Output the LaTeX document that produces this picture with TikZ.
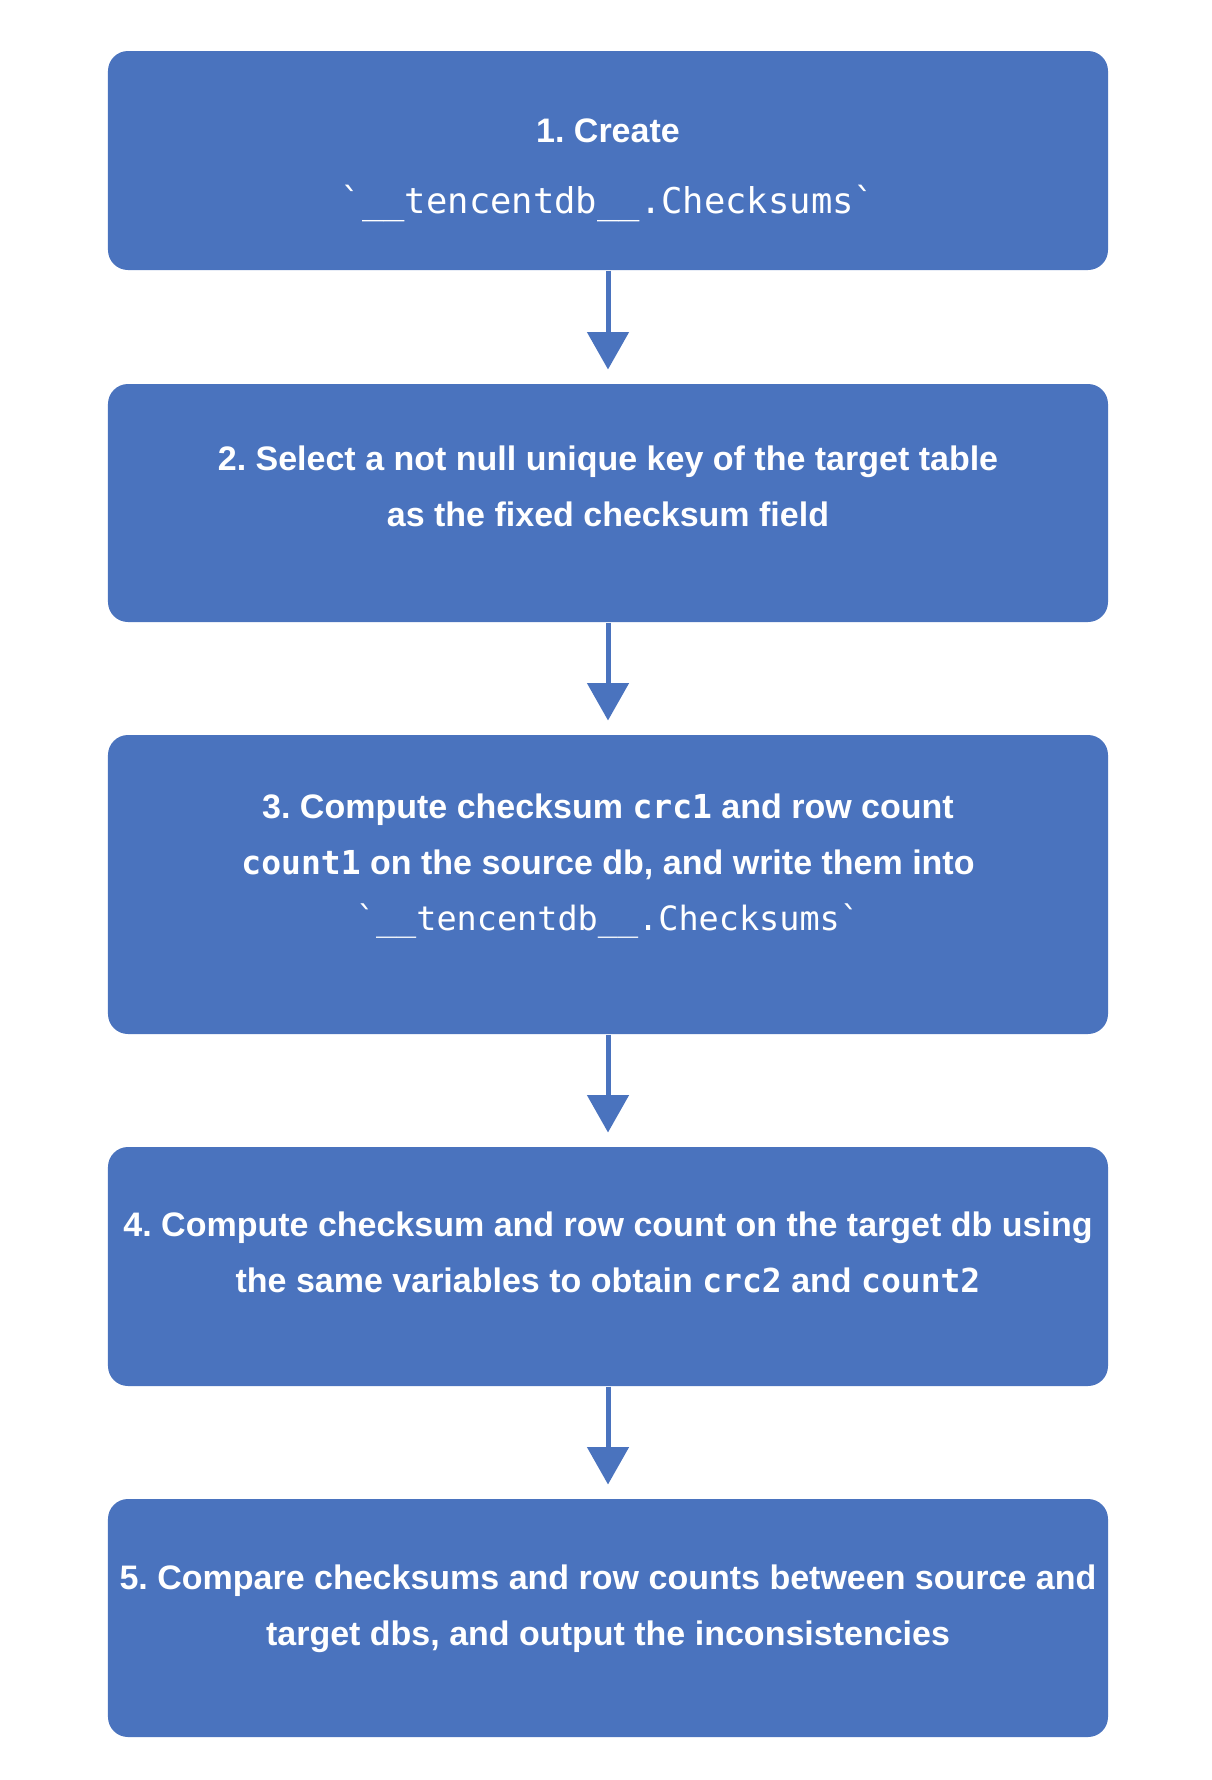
\documentclass[tikz,border=0pt]{standalone}
\usepackage{fontspec}
\setmainfont{Liberation Sans}
\newfontfamily\codefont{DejaVu Sans Mono}
\usepackage{xcolor}
\usepackage{tikz}
\usetikzlibrary{arrows.meta}

\definecolor{stepblue}{RGB}{74,115,190}
\newcommand{\code}[1]{{\codefont\fontsize{13.2pt}{22.4pt}\selectfont\bfseries #1}}
\newcommand{\tbl}[1]{{\codefont\fontsize{#1}{22.4pt}\selectfont\mdseries `\_\_tencentdb\_\_.Checksums`}}
\frenchspacing

\begin{document}
\begin{tikzpicture}[x=0.4pt,y=-0.4pt,
		stepbox/.style={draw=none,fill=stepblue,rounded corners=8pt,minimum width=400pt,inner sep=0pt},
		steptext/.style={text=white,align=center,font=\bfseries\fontsize{13.6pt}{22.4pt}\selectfont,inner sep=0pt},
		flow/.style={draw=stepblue,line width=2pt,-{Triangle[length=15pt,width=16.4pt]},shorten >=5.6pt}]
		% Rahmen
		\useasboundingbox (0,0) rectangle (1212,1780);

		% Kaesten
		\node[stepbox,minimum height=87.6pt] (s1) at (608,160.5) {};
		\node[stepbox,minimum height=95.2pt] (s2) at (608,503) {};
		\node[stepbox,minimum height=119.6pt] (s3) at (608,884.5) {};
		\node[stepbox,minimum height=95.6pt] (s4) at (608,1266.5) {};
		\node[stepbox,minimum height=95.2pt] (s5) at (608,1618) {};

		% Texte
		\node[steptext] (t1) at (608,170) {1. Create\\[6pt]\tbl{14.2pt}};
		\node[steptext] (t2) at (608,486) {2. Select a not null unique key of the target table\\as the fixed checksum field};
		\node[steptext] (t3) at (608,866) {3. Compute checksum \code{crc1} and row count\\\code{count1} on the source db, and write them into\\\tbl{13.4pt}};
		\node[steptext] (t4) at (608,1252) {4. Compute checksum and row count on the target db using\\the same variables to obtain \code{crc2} and \code{count2}};
		\node[steptext] (t5) at (608,1609) {5. Compare checksums and row counts between source and\\target dbs, and output the inconsistencies};

		% Pfeile
		\draw[flow] (s1) -- (s2);
		\draw[flow] (s2) -- (s3);
		\draw[flow] (s3) -- (s4);
		\draw[flow] (s4) -- (s5);
	\end{tikzpicture}
\end{document}
